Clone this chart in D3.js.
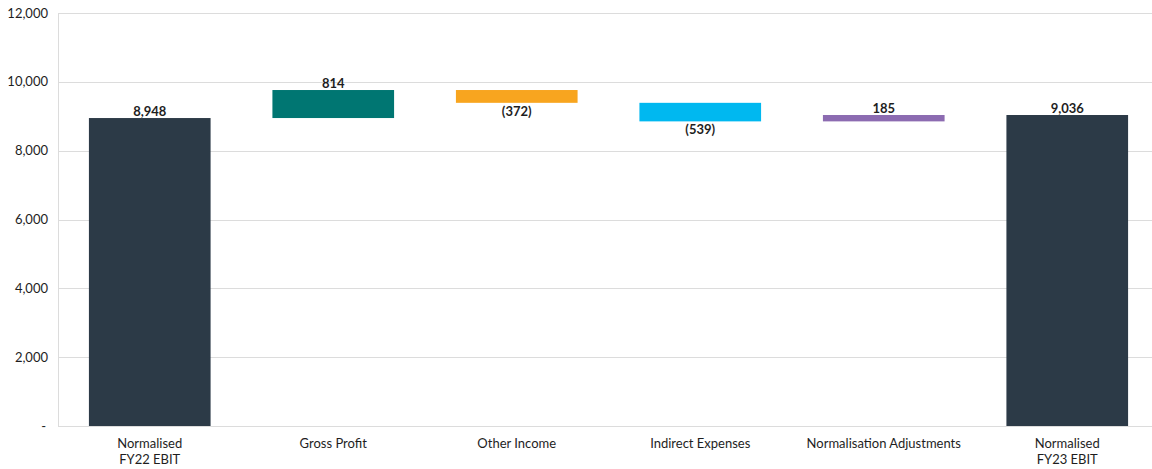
<!DOCTYPE html>
<html>
<head>
<meta charset="utf-8">
<script src="https://cdn.jsdelivr.net/npm/d3@7"></script>
<style>
  body { margin: 0; background: #fff; }
  text { font-family: Lato, "Open Sans", sans-serif; fill: #1e1e1e; }
</style>
</head>
<body>
<svg id="chart" width="1152" height="469"></svg>
<script>
// waterfall data
var categories = ["Normalised\nFY22 EBIT", "Gross Profit", "Other Income", "Indirect Expenses", "Normalisation Adjustments", "Normalised\nFY23 EBIT"];
var values = [8948, 814, -372, -539, 185, 9036];
var isTotal = [true, false, false, false, false, true];
var colors = ["#2c3a47", "#007672", "#f8a51f", "#00b8f0", "#8c6bb1", "#2c3a47"];
var yTicks = [0, 2000, 4000, 6000, 8000, 10000, 12000];

var svg = d3.select("#chart");
// note: "top" is taken by window.top, so plot edges get a prefix
var plotLeft = 58, plotRight = 1159, plotTop = 13, plotBottom = 426;

var x = d3.scaleBand().domain(categories).range([plotLeft, plotRight]).paddingInner(0.337).paddingOuter(0.1685);
var y = d3.scaleLinear().domain([0, 12000]).range([plotBottom, plotTop]);

// running totals
var running = 0;
var bars = values.map(function (v, i) {
  var b;
  if (isTotal[i]) { b = { y0: 0, y1: v }; running = v; }
  else { b = { y0: running, y1: running + v }; running += v; }
  b.v = v; b.cat = categories[i]; b.color = colors[i]; b.total = isTotal[i];
  return b;
});

// grid
svg.append("g").selectAll("line").data(yTicks).enter().append("line")
  .attr("x1", plotLeft).attr("x2", 1152)
  .attr("y1", function (d) { return Math.round(y(d)) + 0.5; }).attr("y2", function (d) { return Math.round(y(d)) + 0.5; })
  .attr("stroke", "#dcdcdc");
svg.append("line").attr("x1", plotLeft + 0.5).attr("x2", plotLeft + 0.5).attr("y1", plotTop).attr("y2", plotBottom)
  .attr("stroke", "#dcdcdc");

// y labels
svg.append("g").selectAll("text").data(yTicks).enter().append("text")
  .attr("x", function (d) { return d === 0 ? 46 : 48; })
  .attr("y", function (d) { return y(d) + 4.5; })
  .attr("text-anchor", "end")
  .style("font-size", "13px")
  .text(function (d) { return d === 0 ? "-" : d3.format(",")(d); });

// bars
svg.append("g").selectAll("rect").data(bars).enter().append("rect")
  .attr("x", function (d) { return x(d.cat); })
  .attr("width", x.bandwidth())
  .attr("y", function (d) { return y(Math.max(d.y0, d.y1)); })
  .attr("height", function (d) { return Math.abs(y(d.y0) - y(d.y1)); })
  .attr("fill", function (d) { return d.color; });

// value labels
function fmt(v) { return v < 0 ? "(" + d3.format(",")(-v) + ")" : d3.format(",")(v); }
svg.append("g").selectAll("text").data(bars).enter().append("text")
  .attr("x", function (d) { return x(d.cat) + x.bandwidth() / 2; })
  .attr("y", function (d) {
    return d.v < 0 ? y(Math.min(d.y0, d.y1)) + 13 : y(Math.max(d.y0, d.y1)) - 2;
  })
  .attr("text-anchor", "middle")
  .style("font-size", "13px").style("font-weight", "bold")
  .text(function (d) { return fmt(d.v); });

// category labels
var cl = svg.append("g").selectAll("text").data(categories).enter().append("text")
  .attr("x", function (d) { return x(d) + x.bandwidth() / 2; })
  .attr("y", 448)
  .attr("text-anchor", "middle")
  .style("font-size", "13px");
cl.selectAll("tspan").data(function (d) { return d.split("\n"); }).enter().append("tspan")
  .attr("x", function () { return d3.select(this.parentNode).attr("x"); })
  .attr("dy", function (d, i) { return i === 0 ? 0 : 16; })
  .text(function (d) { return d; });
</script>
</body>
</html>
